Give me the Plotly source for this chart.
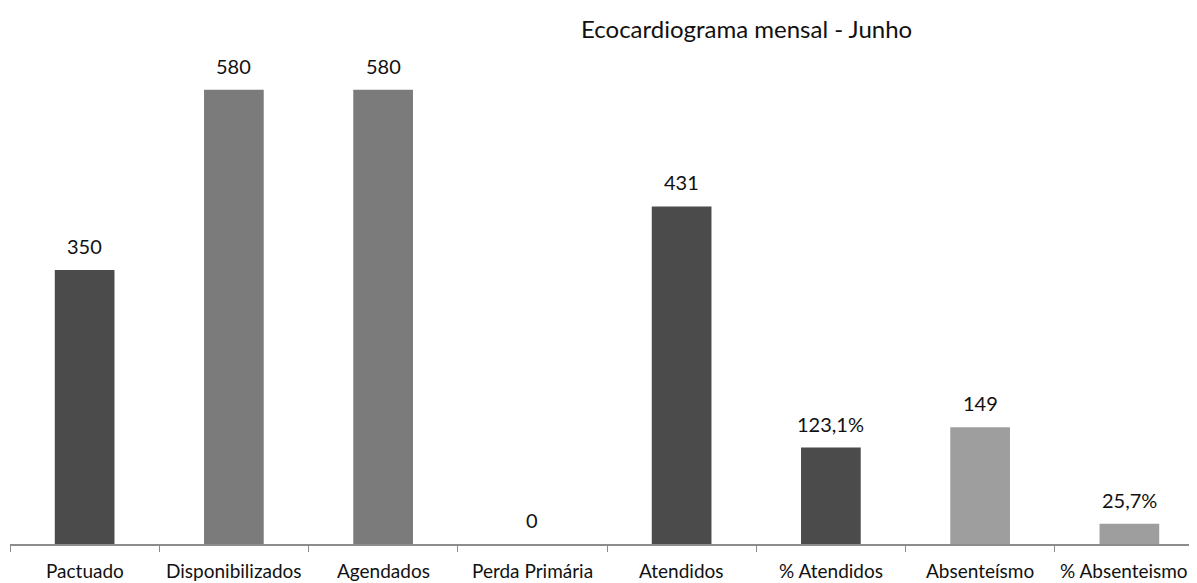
import plotly.graph_objects as go

categories = ["Pactuado", "Disponibilizados", "Agendados", "Perda Primária",
              "Atendidos", "% Atendidos", "Absenteísmo", "% Absenteismo"]
values = [350, 580, 580, 0, 431, 123.1, 149, 25.7]
value_labels = ["350", "580", "580", "0", "431", "123,1%", "149", "25,7%"]
bar_colors = ["#4b4b4b", "#7b7b7b", "#7b7b7b", "#4b4b4b",
              "#4b4b4b", "#4b4b4b", "#9e9e9e", "#9e9e9e"]
title_text = "Ecocardiograma mensal - Junho"

FONT = "Lato, Open Sans, Liberation Sans, Arial, sans-serif"

fig = go.Figure()
fig.add_trace(go.Bar(
    x=categories, y=values,
    marker=dict(color=bar_colors, line=dict(width=0)),
    width=0.4,
    hoverinfo="skip",
))

for c, v, t in zip(categories, values, value_labels):
    fig.add_annotation(x=c, y=v, text=t, showarrow=False,
                       yanchor="bottom", yshift=10,
                       font=dict(family=FONT, size=20, color="#111111"))

# category labels under the axis (last one nudged left so it stays visible)
for i, c in enumerate(categories):
    fig.add_annotation(x=c, xref="x", y=0, yref="paper", text=c,
                       showarrow=False, xanchor="center", yanchor="top",
                       yshift=-13, xshift=(-5 if i == len(categories) - 1 else 0),
                       font=dict(family=FONT, size=19, color="#111111"))

fig.add_annotation(text=title_text, xref="paper", yref="paper",
                   x=(746.5 - 10) / 1194, y=(544 - 29) / 509,
                   xanchor="center", yanchor="middle", showarrow=False,
                   font=dict(family=FONT, size=24, color="#111111"))

fig.update_layout(
    width=1197, height=583,
    margin=dict(l=2, r=1, t=27, b=47),
    paper_bgcolor="white", plot_bgcolor="white",
    showlegend=False,
    xaxis=dict(
        type="category", range=[-0.5, 7.5], automargin=False,
        showline=True, linecolor="#8c8c8c", linewidth=2,
        ticks="outside", tickson="boundaries", ticklen=6,
        tickcolor="#8c8c8c", tickwidth=1,
        showticklabels=False,
        showgrid=False, zeroline=False,
    ),
    yaxis=dict(range=[0, 650], visible=False, showgrid=False,
               zeroline=False, automargin=False),
)

fig.write_html("out.html")
